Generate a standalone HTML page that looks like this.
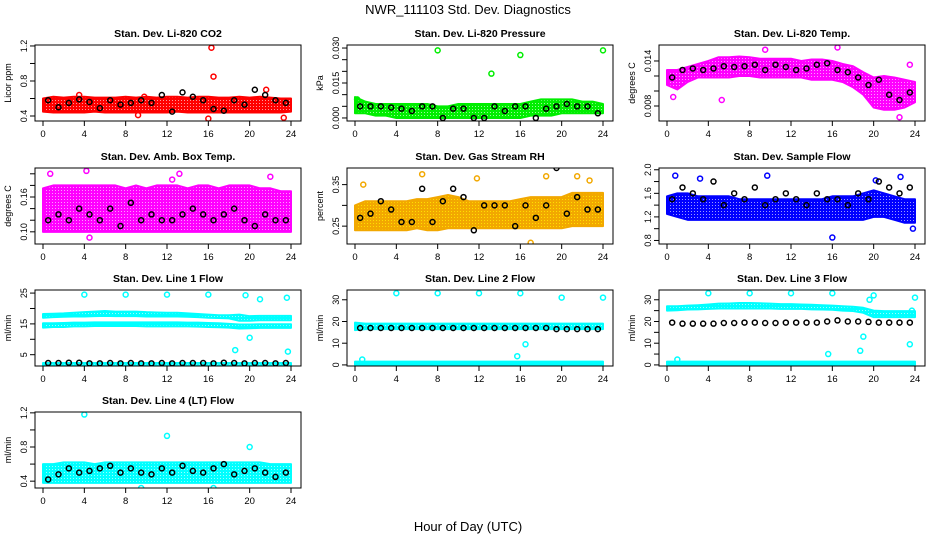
<!DOCTYPE html>
<html><head><meta charset="utf-8"><style>
body{margin:0;background:#fff}
svg{display:block;font-family:"Liberation Sans",sans-serif}
</style></head><body>
<svg id="c" width="936" height="540" viewBox="0 0 936 540">
<text x="468" y="14" text-anchor="middle" font-size="13">NWR_111103  Std. Dev. Diagnostics</text>
<text x="468" y="531" text-anchor="middle" font-size="13">Hour of Day (UTC)</text>
</svg>
<script>
const hours=[0,1,2,3,4,5,6,7,8,9,10,11,12,13,14,15,16,17,18,19,20,21,22,23,24];
const blackX=[0.5,1.5,2.5,3.5,4.5,5.5,6.5,7.5,8.5,9.5,10.5,11.5,12.5,13.5,14.5,15.5,16.5,17.5,18.5,19.5,20.5,21.5,22.5,23.5];
const titles=["Stan. Dev. Li-820 CO2","Stan. Dev. Li-820 Pressure","Stan. Dev. Li-820 Temp.","Stan. Dev. Amb. Box Temp.","Stan. Dev. Gas Stream RH","Stan. Dev. Sample Flow","Stan. Dev. Line 1 Flow","Stan. Dev. Line 2 Flow","Stan. Dev. Line 3 Flow","Stan. Dev. Line 4 (LT) Flow"];
const ylabs=["Licor ppm","kPa","degrees C","degrees C","percent","","ml/min","ml/min","ml/min","ml/min"];
const colors=["#ff0000","#00ee00","#ff00ff","#ff00ff","#f2a800","#0000ff","#00ffff","#00ffff","#00ffff","#00ffff"];
const ylims=[[0.343,1.211],[-0.0013,0.0313],[0.006,0.01613],[0.079,0.21],[0.207,0.39],[0.74,2.03],[1.33,26],[-0.5,34.5],[-0.5,34.5],[0.32,1.21]];
const yticks=[[0.4,0.6,0.8,1.0,1.2],[0,0.005,0.01,0.015,0.02,0.025,0.03],[0.008,0.010,0.012,0.014],[0.10,0.12,0.14,0.16,0.18,0.20],[0.25,0.30,0.35],[0.8,1.0,1.2,1.4,1.6,1.8,2.0],[5,10,15,20,25],[0,10,20,30],[0,5,10,15,20,25,30],[0.4,0.6,0.8,1.0,1.2]];
const ytickLabels=[["0.4","","0.8","","1.2"],["0.000","","","0.015","","","0.030"],["0.008","","","0.014"],["0.10","","","0.16","",""],["0.25","","0.35"],["0.8","","1.2","","1.6","","2.0"],["5","","15","","25"],["0","10","20","30"],["0","","10","","20","","30"],["0.4","","0.8","","1.2"]];
const xticks=[0,4,8,12,16,20,24];
const bands=[
 [[[0.45,0.44,0.44,0.44,0.44,0.45,0.44,0.44,0.44,0.44,0.44,0.44,0.44,0.45,0.44,0.44,0.44,0.44,0.44,0.44,0.44,0.44,0.44,0.44,0.45],[0.6,0.62,0.61,0.62,0.62,0.61,0.61,0.61,0.62,0.61,0.62,0.61,0.62,0.62,0.61,0.62,0.62,0.61,0.61,0.62,0.61,0.62,0.61,0.6,0.6]]],
 [[[0.002,0.002,0.001,0.001,0.0,0.0,0.0,0.0,0.0,0.0,0.0,0.0,0.0,0.0,0.0,0.0,0.0,0.001,0.001,0.001,0.002,0.002,0.002,0.002,0.002],[0.009,0.007,0.006,0.006,0.006,0.006,0.006,0.006,0.005,0.005,0.006,0.006,0.006,0.006,0.006,0.006,0.006,0.007,0.008,0.008,0.008,0.008,0.007,0.007,0.006]]],
 [[[0.0108,0.0102,0.0112,0.0118,0.0118,0.0118,0.0118,0.012,0.012,0.0118,0.0118,0.0118,0.0118,0.0118,0.0115,0.0115,0.0115,0.0112,0.0105,0.0095,0.0078,0.0075,0.0075,0.0078,0.0085],[0.0128,0.0128,0.0132,0.0136,0.014,0.0145,0.0145,0.0146,0.0145,0.0143,0.0143,0.0143,0.0143,0.014,0.0142,0.0142,0.014,0.0136,0.0133,0.0125,0.0118,0.012,0.0118,0.0115,0.0112]]],
 [[[0.1,0.1,0.1,0.1,0.1,0.1,0.1,0.1,0.1,0.1,0.1,0.1,0.1,0.1,0.1,0.1,0.1,0.1,0.1,0.1,0.1,0.1,0.1,0.1,0.1],[0.175,0.18,0.18,0.18,0.18,0.18,0.18,0.18,0.175,0.18,0.175,0.18,0.18,0.18,0.175,0.18,0.18,0.175,0.18,0.18,0.18,0.175,0.175,0.17,0.17]]],
 [[[0.24,0.24,0.24,0.24,0.24,0.24,0.245,0.24,0.24,0.245,0.245,0.245,0.245,0.245,0.245,0.245,0.245,0.245,0.245,0.245,0.245,0.25,0.25,0.25,0.25],[0.3,0.31,0.31,0.31,0.31,0.31,0.315,0.315,0.32,0.325,0.32,0.31,0.31,0.31,0.31,0.31,0.315,0.32,0.32,0.32,0.32,0.33,0.33,0.33,0.33]]],
 [[[1.25,1.2,1.15,1.15,1.15,1.15,1.15,1.15,1.15,1.15,1.15,1.15,1.15,1.15,1.15,1.15,1.15,1.15,1.15,1.15,1.2,1.2,1.15,1.1,1.1],[1.55,1.6,1.6,1.55,1.55,1.55,1.55,1.5,1.5,1.5,1.5,1.5,1.5,1.5,1.5,1.5,1.55,1.55,1.55,1.6,1.65,1.6,1.55,1.5,1.5]]],
 [[[17,17.2,17.3,17.4,17.4,17.5,17.6,17.5,17.5,17.5,17.4,17.4,17.4,17.4,17.3,17.2,17.0,16.9,16.8,16,16,16.2,16.2,16.2,16.2],[18.2,18.3,18.4,18.6,18.8,19.0,19.2,19.0,19.0,19.0,18.8,18.7,18.6,18.6,18.4,18.2,18.0,17.8,17.8,18.0,17.5,17.6,17.6,17.6,17.6]],[[13.8,14,14,14.2,14.2,14.3,14.3,14.3,14.3,14.3,14.2,14.2,14.2,14.2,14.2,14.1,14,13.9,13.8,13.5,13.6,13.7,13.7,13.7,13.7],[15.2,15.2,15.3,15.4,15.4,15.5,15.5,15.5,15.5,15.5,15.5,15.5,15.5,15.5,15.4,15.4,15.3,15.2,15.0,14.8,14.8,14.9,14.9,14.9,14.9]],[[1.5,1.5,1.5,1.5,1.5,1.5,1.5,1.5,1.5,1.5,1.5,1.5,1.5,1.5,1.5,1.5,1.5,1.5,1.5,1.5,1.5,1.5,1.5,1.5,1.5],[2.3,2.3,2.3,2.3,2.3,2.3,2.3,2.3,2.3,2.3,2.3,2.3,2.3,2.3,2.3,2.3,2.3,2.3,2.3,2.3,2.3,2.3,2.3,2.3,2.3]]],
 [[[16,16.5,16.5,16.5,16.5,16.5,16.5,16.5,16.5,16.5,16.5,16.5,16.5,16.5,16.5,16.5,16.5,16.5,16.5,16.5,16.5,16.5,16.5,16.5,16.5],[19.5,19,19,19,19,19,19,19,19,19,19,19,19,19,19,19,19,19,19,19,19,19,19,19,19]],[[0,0,0,0,0,0,0,0,0,0,0,0,0,0,0,0,0,0,0,0,0,0,0,0,0],[1.5,1.5,1.5,1.5,1.5,1.5,1.5,1.5,1.5,1.5,1.5,1.5,1.5,1.5,1.5,1.5,1.5,1.5,1.5,1.5,1.5,1.5,1.5,1.5,1.5]]],
 [[[25,25.2,25.5,25.6,25.8,26,26,26,26,26,26,25.8,25.8,25.8,25.6,25.5,25.4,25,24.8,24,22,22,22,22,22],[27,27,27.3,27.5,27.8,28.2,28.3,28.5,28.5,28.4,28.2,28,28,27.8,27.7,27.5,27.3,27,26.8,26.3,25,24.8,24.8,24.8,24.8]],[[0,0,0,0,0,0,0,0,0,0,0,0,0,0,0,0,0,0,0,0,0,0,0,0,0],[1.5,1.5,1.5,1.5,1.5,1.5,1.5,1.5,1.5,1.5,1.5,1.5,1.5,1.5,1.5,1.5,1.5,1.5,1.5,1.5,1.5,1.5,1.5,1.5,1.5]]],
 [[[0.38,0.38,0.38,0.38,0.38,0.38,0.38,0.38,0.38,0.38,0.38,0.38,0.38,0.38,0.38,0.38,0.38,0.38,0.38,0.38,0.38,0.38,0.38,0.38,0.38],[0.6,0.6,0.62,0.62,0.62,0.6,0.62,0.62,0.62,0.62,0.62,0.62,0.62,0.62,0.62,0.62,0.62,0.62,0.62,0.62,0.62,0.62,0.6,0.6,0.6]]]
];
const outX=[[16.3,16.5,21.6,16,23.3,3.5,9.2,9.8],[8,16,13.2,24,0.2],[0.6,5.3,9.5,16.5,23.5,22.5],[4.2,13.2,22,0.7,4.5,12.5],[0.8,6.5,11.8,18.5,21.5,22.7,17],[0.8,3.2,9.7,16,20.2,22.6,23.8],[4,8,12,16,19.6,20,21,23.6,23.7,18.6],[4,8,12,16,20,24,0.7,15.7,16.5],[4,8,12,16,20,24,1,15.6,18.7,19,19.6,23.5,23.7],[4,12,20,9.5,16.5]];
const outY=[[1.18,0.85,0.7,0.37,0.38,0.64,0.41,0.62],[0.029,0.027,0.019,0.029,0.008],[0.0092,0.0088,0.0155,0.0158,0.0135,0.0065],[0.205,0.2,0.195,0.2,0.09,0.19],[0.35,0.375,0.365,0.37,0.37,0.36,0.21],[1.9,1.85,1.9,0.85,1.82,1.88,1.0],[24.5,24.5,24.5,24.5,24.3,10.5,23,23.5,6,6.5],[33,33,33,33,31,31,2.5,4,9.5],[33,33,33,33,32,31,2.5,5,6.5,13,30,9.5,25],[1.18,0.93,0.8,0.32,0.32]];
const blackY=[
[0.58,0.5,0.55,0.59,0.56,0.49,0.58,0.53,0.55,0.58,0.55,0.64,0.45,0.67,0.62,0.58,0.48,0.46,0.58,0.53,0.7,0.64,0.58,0.55],
[0.005,0.005,0.005,0.0045,0.004,0.003,0.005,0.005,0.0,0.004,0.004,0.0,0.0,0.005,0.003,0.005,0.005,0.0,0.004,0.005,0.006,0.005,0.005,0.002],
[0.0118,0.0128,0.013,0.0128,0.013,0.0133,0.0132,0.0133,0.0135,0.0128,0.0135,0.0132,0.0128,0.013,0.0135,0.0137,0.0128,0.0125,0.0118,0.0108,0.0115,0.0095,0.0088,0.0098],
[0.12,0.13,0.12,0.14,0.13,0.12,0.14,0.11,0.15,0.12,0.13,0.12,0.12,0.13,0.14,0.13,0.12,0.13,0.14,0.12,0.11,0.13,0.12,0.12],
[0.27,0.28,0.31,0.29,0.26,0.26,0.34,0.26,0.31,0.34,0.32,0.24,0.3,0.3,0.3,0.25,0.3,0.27,0.3,0.39,0.28,0.32,0.29,0.29],
[1.5,1.7,1.6,1.5,1.8,1.4,1.6,1.5,1.7,1.4,1.5,1.6,1.5,1.4,1.6,1.5,1.5,1.4,1.6,1.5,1.8,1.7,1.6,1.7],
[2.3,2.3,2.4,2.4,2.2,2.2,2.3,2.2,2.3,2.2,2.2,2.3,2.2,2.3,2.3,2.3,2.2,2.4,2.3,2.2,2.3,2.3,2.2,2.3],
[17,17,17,17,17,17,17,17,17,17,17,17,17,17,17,17,17,17,17,16.5,16.5,16.5,16.5,16.5],
[19.5,19,19,19,19,19.3,19.3,19.5,19.5,19.3,19.3,19.5,19.5,19.5,19.5,20,20.5,20,20,19.8,19.5,19.5,19.5,19.5],
[0.42,0.48,0.55,0.5,0.52,0.55,0.58,0.5,0.55,0.5,0.48,0.55,0.5,0.58,0.52,0.5,0.55,0.6,0.48,0.52,0.55,0.5,0.45,0.5]
];
const NS="http://www.w3.org/2000/svg";
const svg=document.getElementById('c');
function mk(tag,attrs,parent){const e=document.createElementNS(NS,tag);for(const k in attrs)e.setAttribute(k,attrs[k]);(parent||svg).appendChild(e);return e;}
const defs=mk('defs',{});
for(let p=0;p<10;p++){
  const col=p%3,row=Math.floor(p/3);
  const L=35+312*col,W=266,T=[45,168,290,412][row],H=76;
  const xs=h=>L+8+h*(248/24);
  const [y0,y1]=ylims[p];
  const ys=v=>T+H-(v-y0)/(y1-y0)*H;
  const pat=mk('pattern',{id:'pt'+p,width:3,height:3,patternUnits:'userSpaceOnUse'},defs);
  mk('rect',{x:0,y:0,width:3,height:3,fill:colors[p]},pat);
  mk('rect',{x:1,y:1,width:1,height:1,fill:p==4?'#ffe000':'#ffffff','fill-opacity':p==4?1:0.6},pat);
  const g=mk('g',{});
  
  
  const clip=mk('clipPath',{id:'cl'+p},g);mk('rect',{x:L,y:T,width:W,height:H},clip);
  const t=mk('text',{x:L+W/2,y:T-8,'text-anchor':'middle','font-size':'10.5','font-weight':'bold'},g);t.textContent=titles[p];
  
  
  const pg=mk('g',{'clip-path':'url(#cl'+p+')'},g);
  bands[p].forEach(b=>{
    let d='M';
    hours.forEach((h,i)=>{d+=xs(h)+','+ys(b[1][i])+' L';});
    for(let i=hours.length-1;i>=0;i--){d+=xs(hours[i])+','+ys(b[0][i])+(i?' L':' Z');}
    const path=mk('path',{d:d,fill:'url(#pt'+p+')',stroke:colors[p],'stroke-width':2,'stroke-linejoin':'round'},pg);
    
    
  });
  outX[p].forEach((x,i)=>{
    const c=mk('circle',{cx:xs(x),cy:ys(outY[p][i]),r:2.5,fill:'none',stroke:colors[p],'stroke-width':1.5},pg);
    
    
  });
  blackX.forEach((x,i)=>{
    const c=mk('circle',{cx:xs(x),cy:ys(blackY[p][i]),r:2.5,fill:'none',stroke:'#000','stroke-width':1.5},pg);
    
    
  });
  const box=mk('rect',{x:L,y:T,width:W,height:H,fill:'none',stroke:'#000','stroke-width':1},g);
  
  
  xticks.forEach(v=>{
    mk('line',{x1:xs(v),x2:xs(v),y1:T+H,y2:T+H+5,stroke:'#000'},g);
    const tx=mk('text',{x:xs(v),y:T+H+16,'text-anchor':'middle','font-size':'9.5'},g);tx.textContent=v;
    
    
  });
  yticks[p].forEach((v,i)=>{
    const y=ys(v);
    mk('line',{x1:L-5,x2:L,y1:y,y2:y,stroke:'#000'},g);
    const lab=ytickLabels[p][i];
    if(lab){const tx=mk('text',{x:L-8,y:y,'text-anchor':'middle','font-size':'9',transform:'rotate(-90 '+(L-8)+' '+y+')'},g);tx.textContent=lab;
      
      }
  });
  const yl=ylabs[p];
  if(yl){const tx=mk('text',{x:L-24,y:T+H/2,'text-anchor':'middle','font-size':'9',transform:'rotate(-90 '+(L-24)+' '+(T+H/2)+')'},g);tx.textContent=yl;
    
    }
}
</script>
</body></html>
